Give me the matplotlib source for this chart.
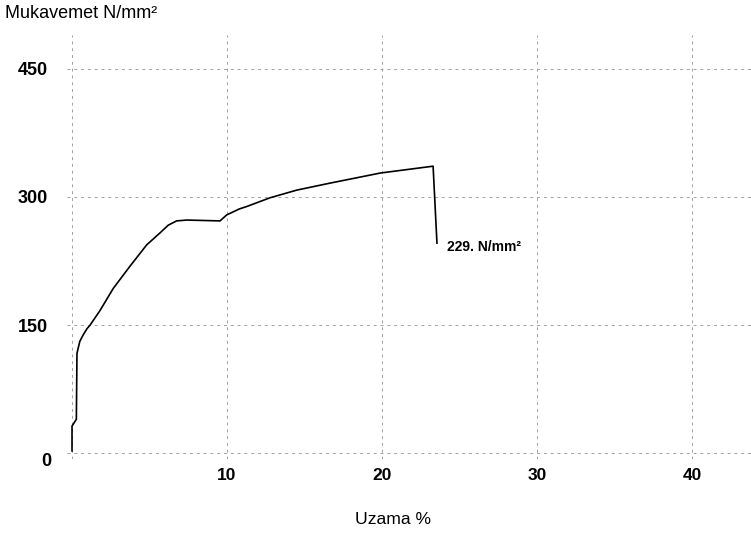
import matplotlib
matplotlib.use("Agg")
import matplotlib.pyplot as plt

# stress-strain curve
STRAIN = [0.0, 0.0, 0.28, 0.32, 0.5, 0.73, 0.97, 1.16, 1.8, 2.66, 3.74, 4.82, 5.68,
          6.21, 6.75, 7.4, 9.55, 9.98, 10.8, 11.3, 12.77, 14.5, 16.6, 19.9, 23.3, 23.55]
STRESS = [3, 32, 40, 117, 131, 139, 146, 150, 167, 193, 219, 244, 258,
          267, 272, 273, 272, 279, 286, 289, 299, 308, 316, 328, 336, 246]

X_TICKS = [10, 20, 30, 40]
Y_TICKS = [150, 300, 450]
END_LABEL = "229. N/mm²"

plt.rcParams["font.family"] = ["Liberation Sans", "DejaVu Sans"]

fig = plt.figure(figsize=(7.51, 5.35), dpi=100)
fig.patch.set_facecolor("white")
ax = fig.add_axes([0.0897, 0.1428, 0.910, 0.7927])

ax.set_xlim(-0.3, 43.8)
ax.set_ylim(-6, 490)

grid_kw = dict(color="#a0a0a0", lw=0.7, ls=(0, (3, 4)), zorder=1)
for gx in [0] + X_TICKS:
    ax.axvline(gx, **grid_kw)
for gy in [0] + Y_TICKS:
    ax.axhline(gy, **grid_kw)

ax.plot(STRAIN, STRESS, color="black", lw=1.2, zorder=3)
ax.text(STRAIN[-1] + 0.65, 242, END_LABEL, fontsize=10, fontweight="bold",
        ha="left", va="center")

ax.set_xticks(X_TICKS)
ax.set_xticklabels([str(t) for t in X_TICKS], fontsize=12.5, fontweight="bold")
ax.set_yticks(Y_TICKS)
ax.set_yticklabels([str(t) for t in Y_TICKS], fontsize=13, fontweight="bold")
ax.tick_params(length=0)
ax.tick_params(axis="x", pad=7)
ax.tick_params(axis="y", pad=14)
for s in ax.spines.values():
    s.set_visible(False)

fig.text(51 / 751, 1 - 462 / 535, "0", fontsize=13, fontweight="bold",
         ha="right", va="center")
fig.text(5 / 751, 1 - 13 / 535, "Mukavemet N/mm²", fontsize=13,
         ha="left", va="center")
fig.text(393 / 751, 1 - 520 / 535, "Uzama %", fontsize=12.6,
         ha="center", va="center")

fig.savefig("out.png", dpi=100, facecolor="white")
